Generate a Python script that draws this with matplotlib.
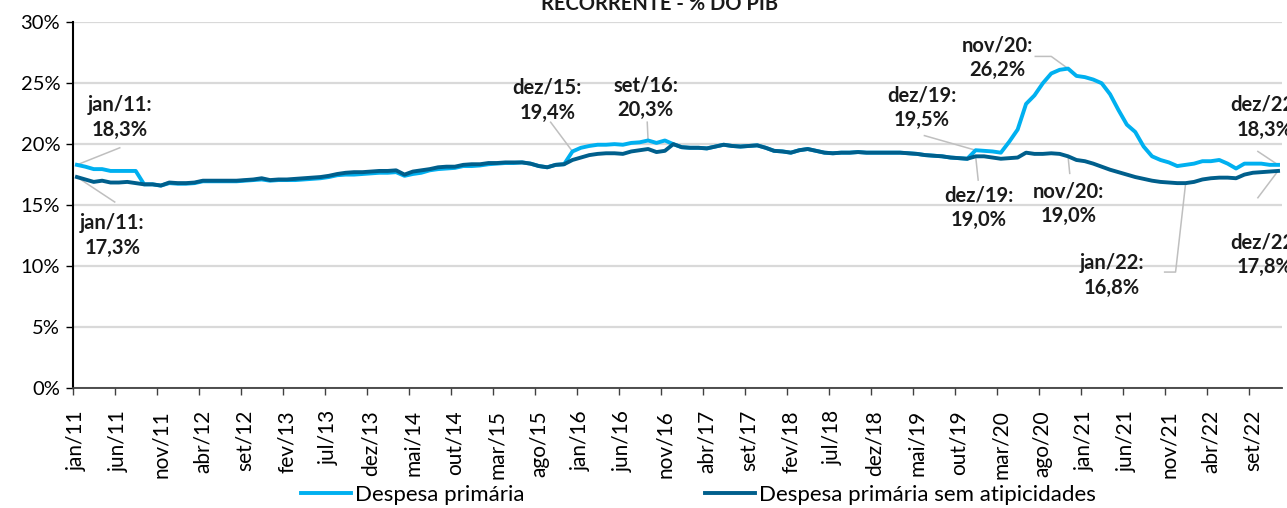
import matplotlib
matplotlib.use("Agg")
import matplotlib.pyplot as plt
import numpy as np

# ---------------------------------------------------------------------------
# Data: despesa primária (% do PIB), monthly jan/11 .. dez/22

months = ['jan', 'fev', 'mar', 'abr', 'mai', 'jun',
          'jul', 'ago', 'set', 'out', 'nov', 'dez']
years = list(range(11, 23))
categories = [f"{m}/{y}" for y in years for m in months]

despesa_primaria = [
    18.3, 18.15, 17.95, 17.95, 17.8, 17.8, 17.8, 17.8, 16.7, 16.7, 16.6, 16.8,
    16.75, 16.75, 16.8, 16.95, 16.95, 16.95, 16.95, 16.95, 17.0, 17.05, 17.1, 17.0,
    17.05, 17.05, 17.05, 17.1, 17.15, 17.2, 17.3, 17.45, 17.5, 17.5, 17.55, 17.6,
    17.65, 17.65, 17.7, 17.4, 17.55, 17.65, 17.85, 17.95, 18.0, 18.05, 18.2, 18.2,
    18.25, 18.35, 18.4, 18.45, 18.45, 18.5, 18.4, 18.2, 18.1, 18.3, 18.35, 19.4,
    19.7, 19.85, 19.95, 19.95, 20.0, 19.95, 20.1, 20.15, 20.3, 20.1, 20.3, 20.0,
    19.75, 19.7, 19.7, 19.65, 19.8, 19.95, 19.85, 19.8, 19.85, 19.9, 19.7, 19.45,
    19.4, 19.3, 19.5, 19.6, 19.45, 19.3, 19.25, 19.3, 19.3, 19.35, 19.3, 19.3,
    19.3, 19.3, 19.3, 19.25, 19.2, 19.1, 19.05, 19.0, 18.9, 18.85, 18.8, 19.5,
    19.45, 19.4, 19.3, 20.2, 21.2, 23.3, 24.0, 25.0, 25.8, 26.1, 26.2, 25.6,
    25.5, 25.3, 25.0, 24.1, 22.8, 21.6, 21.0, 19.8, 19.0, 18.7, 18.5, 18.2,
    18.3, 18.4, 18.6, 18.6, 18.7, 18.4, 18.0, 18.4, 18.4, 18.4, 18.3, 18.3,
]

despesa_sem_atipicidades = [
    17.3, 17.1, 16.9, 17.0, 16.85, 16.85, 16.9, 16.8, 16.7, 16.7, 16.6, 16.85,
    16.8, 16.8, 16.85, 17.0, 17.0, 17.0, 17.0, 17.0, 17.05, 17.1, 17.2, 17.05,
    17.1, 17.1, 17.15, 17.2, 17.25, 17.3, 17.4, 17.55, 17.65, 17.7, 17.7, 17.75,
    17.8, 17.8, 17.85, 17.5, 17.75, 17.85, 17.95, 18.1, 18.15, 18.15, 18.3, 18.35,
    18.35, 18.45, 18.45, 18.5, 18.5, 18.5, 18.4, 18.2, 18.1, 18.3, 18.35, 18.7,
    18.9, 19.1, 19.2, 19.25, 19.25, 19.2, 19.4, 19.5, 19.6, 19.35, 19.45, 20.0,
    19.75, 19.7, 19.7, 19.65, 19.8, 19.95, 19.85, 19.8, 19.85, 19.9, 19.7, 19.45,
    19.4, 19.3, 19.5, 19.6, 19.45, 19.3, 19.25, 19.3, 19.3, 19.35, 19.3, 19.3,
    19.3, 19.3, 19.3, 19.25, 19.2, 19.1, 19.05, 19.0, 18.9, 18.85, 18.8, 19.0,
    19.0, 18.9, 18.8, 18.85, 18.9, 19.3, 19.2, 19.2, 19.25, 19.2, 19.0, 18.7,
    18.6, 18.4, 18.15, 17.9, 17.7, 17.5, 17.3, 17.15, 17.0, 16.9, 16.85, 16.8,
    16.8, 16.9, 17.1, 17.2, 17.25, 17.25, 17.2, 17.5, 17.65, 17.7, 17.75, 17.8,
]

# ---------------------------------------------------------------------------
LIGHT = '#00B0F0'
DARK = '#005F8C'
FONT = 'Lato'

plt.rcParams['font.family'] = [FONT, 'DejaVu Sans']

fig = plt.figure(figsize=(12.87, 5.08), dpi=100)
ax = fig.add_axes([0.0565, 0.2366, 0.9398, 0.7195])

x = np.arange(len(categories)) + 0.5
ax.plot(x, despesa_primaria, color=LIGHT, lw=2.8, label='Despesa primária',
        solid_joinstyle='round', zorder=3)
ax.plot(x, despesa_sem_atipicidades, color=DARK, lw=2.8,
        label='Despesa primária sem atipicidades',
        solid_joinstyle='round', zorder=4)

ax.set_xlim(0, len(categories))
ax.set_ylim(0, 30)
ax.set_yticks(range(0, 31, 5))
ax.set_yticklabels([f"{v}%" for v in range(0, 31, 5)], fontsize=14.5)
ax.grid(axis='y', color='#D9D9D9', lw=1.6, zorder=0)
ax.set_axisbelow(True)

# tick marks at category boundaries, labels centred on the category
ax.set_xticks(np.arange(0, len(categories), 5))
ax.set_xticklabels([])
ax.set_xticks(np.arange(0, len(categories), 5) + 0.5, minor=True)
ax.set_xticklabels(categories[::5], minor=True, rotation=90, fontsize=15)
ax.tick_params(axis='x', which='minor', length=0, pad=16)
ax.tick_params(axis='x', which='major', length=5, width=1, color='#404040')
ax.tick_params(axis='y', length=5, width=1, pad=4)

for s in ['top', 'right']:
    ax.spines[s].set_visible(False)
ax.spines['left'].set_linewidth(1.5)
ax.spines['bottom'].set_linewidth(1.3)
ax.spines['bottom'].set_color('#404040')

# title (top line cropped in the source image)
fig.text(0.5128, 1 - 4 / 508, 'RECORRENTE - % DO PIB', ha='center',
         va='center', fontsize=14.5, fontweight='bold', color='#1a1a1a')


def fmt(v):
    return f"{v:.1f}".replace('.', ',') + '%'


def label(series, cat, text_xy, path):
    i = categories.index(cat)
    v = series[i]
    pts = [(i + 0.5, v)] + path
    xs, ys = zip(*pts)
    ax.plot(xs, ys, color='#BFBFBF', lw=1.1, zorder=2, clip_on=False)
    ax.text(text_xy[0], text_xy[1], f"{cat}:\n{fmt(v)}", ha='center',
            va='center', fontsize=14.5, fontweight='bold', color='#1a1a1a',
            linespacing=1.3, clip_on=False, zorder=5)


label(despesa_primaria, 'jan/11', (5.6, 22.2), [(5.6, 19.7)])
label(despesa_sem_atipicidades, 'jan/11', (4.7, 12.5), [(5.0, 15.25)])
label(despesa_primaria, 'dez/15', (56.5, 23.6), [(56.9, 21.8)])
label(despesa_primaria, 'set/16', (68.2, 23.8), [(68.4, 21.8)])
label(despesa_primaria, 'dez/19', (101.1, 23.0), [(101.4, 20.7)])
label(despesa_primaria, 'nov/20', (110.1, 27.1), [(116.5, 27.2), (114.6, 27.2)])
label(despesa_sem_atipicidades, 'dez/19', (107.9, 14.8), [(107.8, 17.05)])
label(despesa_sem_atipicidades, 'nov/20', (118.6, 15.1), [(118.7, 17.6)])
label(despesa_sem_atipicidades, 'jan/22', (123.7, 9.25), [(131.3, 9.5), (130.0, 9.5)])
label(despesa_primaria, 'dez/22', (141.9, 22.2), [(141.1, 19.4)])
label(despesa_sem_atipicidades, 'dez/22', (141.9, 10.9), [(141.1, 15.6)])

fig.legend(loc='center', bbox_to_anchor=(0.5425, 0.026), ncol=2, frameon=False,
           fontsize=16, handlelength=2.25, handletextpad=0.2, columnspacing=8.1)

fig.savefig('out.png', dpi=100)
